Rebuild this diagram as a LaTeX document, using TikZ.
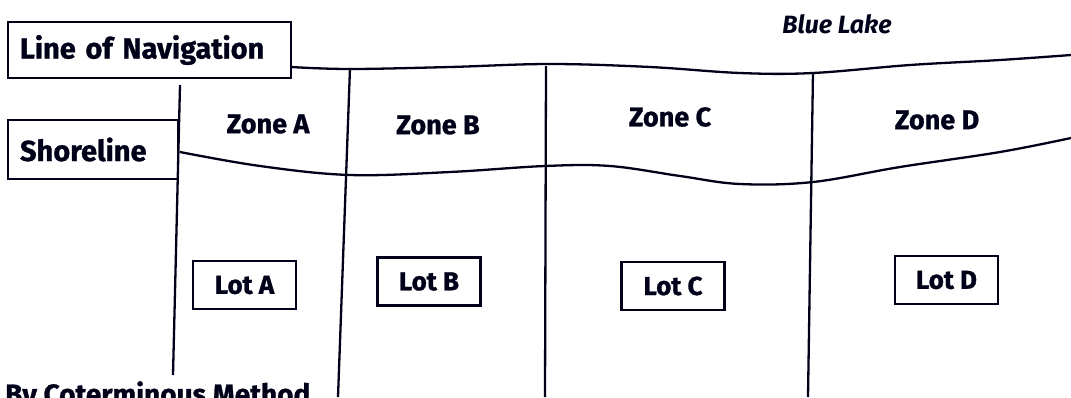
\documentclass[tikz,border=0pt]{standalone}
\usepackage{fontspec}
\setmainfont{Fira Sans}[BoldFeatures={FakeBold=1}]
\begin{document}
\begin{tikzpicture}[x=1pt,y=-1pt,
  ln/.style={line width=2.3pt, black!90!blue},
  lbl/.style={font=\bfseries\fontsize{27}{30}\selectfont, text=black!90!blue, inner sep=0pt},
  boxa/.style={draw=black!90!blue, line width=2.3pt, font=\bfseries\fontsize{29}{30}\selectfont, text=black!90!blue, align=left, inner xsep=12pt, inner ysep=0pt},
  lotbox/.style={draw=black!90!blue, line width=2.3pt, font=\bfseries\fontsize{26}{30}\selectfont, text=black!90!blue, minimum width=103pt, minimum height=48pt, inner sep=0pt}]
\useasboundingbox (0,0) rectangle (1071,397);
\clip (0,0) rectangle (1071,397);
% boxes
\node[boxa, text width=259pt, minimum height=56pt] (nav) at (149.5,50) {Line of Navigation};
\node[boxa, text width=146pt, minimum height=59pt] (shore) at (93,149.5) {Shoreline};
% lines
\coordinate (n0) at (291,67);
\coordinate (s0) at (180,152);
\draw[ln] plot[smooth, tension=0.6] coordinates {(n0) (350,69) (450,67) (550,64) (650,67) (740,73) (813,73) (910,65) (1000,60) (1071,55)};
\draw[ln] plot[smooth, tension=0.6] coordinates {(s0) (260,166) (350,175) (450,172) (545,166) (610,166) (680,176) (740,184) (813,182) (900,167) (1000,152) (1071,138)};
\coordinate (v1t) at (180,85);  \coordinate (v1b) at (173,375);
\coordinate (v2t) at (350,68);  \coordinate (v2b) at (338,397);
\coordinate (v3t) at (546,66);  \coordinate (v3b) at (545,397);
\coordinate (v4t) at (813,72);  \coordinate (v4b) at (808,397);
\draw[ln] (v1t) -- (v1b);
\draw[ln] (v2t) -- (v2b);
\draw[ln] (v3t) -- (v3b);
\draw[ln] (v4t) -- (v4b);
% labels
\node[lbl] (za) at (268,124) {Zone A};
\node[lbl] (zb) at (438,125) {Zone B};
\node[lbl] (zc) at (670,117) {Zone C};
\node[lbl] (zd) at (937,120) {Zone D};
\node[lbl, font=\bfseries\itshape\fontsize{25}{30}\selectfont] (bl) at (837,24) {Blue Lake};
% lots
\node[lotbox] (la) at (244.5,285) {Lot A};
\node[lotbox] (lb) at (429,281.5) {Lot B};
\node[lotbox] (lc) at (673,286) {Lot C};
\node[lotbox] (ld) at (946.5,280) {Lot D};
\node[lbl, font=\bfseries\fontsize{28}{30}\selectfont, anchor=base west] (bcm) at (5,404) {By Coterminous Method};
\end{tikzpicture}
\end{document}
